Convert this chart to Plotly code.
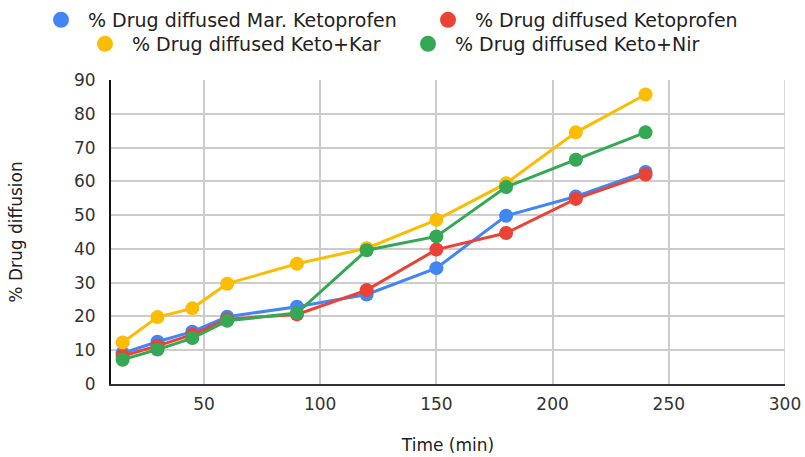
import plotly.graph_objects as go

time_min = [15, 30, 45, 60, 90, 120, 150, 180, 210, 240]
mar_keto = [9.1, 12.5, 15.5, 19.9, 22.9, 26.5, 34.3, 49.8, 55.5, 62.8]
keto = [8.3, 11.3, 14.6, 19.2, 20.6, 27.8, 39.8, 44.7, 54.8, 62.0]
keto_kar = [12.3, 19.8, 22.4, 29.7, 35.6, 40.2, 48.6, 59.4, 74.5, 85.7]
keto_nir = [7.2, 10.2, 13.6, 18.7, 21.0, 39.6, 43.7, 58.3, 66.4, 74.5]

names = [
    "% Drug diffused Mar. Ketoprofen",
    "% Drug diffused Ketoprofen",
    "% Drug diffused Keto+Kar",
    "% Drug diffused Keto+Nir",
]
series = [mar_keto, keto, keto_kar, keto_nir]
colors = ["#4285F4", "#EA4335", "#FBBC04", "#34A853"]
legend_ids = ["legend", "legend2", "legend3", "legend4"]

FONT = "DejaVu Sans"

fig = go.Figure()
for name, ys, col in zip(names, series, colors):
    fig.add_trace(go.Scatter(
        x=time_min, y=ys, mode="lines+markers", name=name,
        line=dict(color=col, width=3),
        marker=dict(color=col, size=14),
        showlegend=False, legendgroup=name, hoverinfo="x+y+name",
    ))
# legend-only entries (circle symbols as in the reference)
for name, col, lg in zip(names, colors, legend_ids):
    fig.add_trace(go.Scatter(
        x=[None], y=[None], mode="markers", name=name,
        marker=dict(color=col, size=17),
        legendgroup=name, legend=lg, showlegend=True,
    ))

legend_common = dict(
    orientation="h", xref="container", yref="container",
    xanchor="left", yanchor="middle",
    font=dict(family=FONT, size=19, color="#222222"),
    bgcolor="rgba(0,0,0,0)", itemsizing="trace", itemwidth=44,
)
# (symbol centre x, row centre y) in pixels of the 805x457 canvas
legend_pos = [(61, 20), (448, 20), (105, 44), (428, 44)]
legend_layout = {}
for lg, (cx, cy) in zip(legend_ids, legend_pos):
    legend_layout[lg] = dict(legend_common, x=(cx - 27) / 805, y=1 - cy / 457)

fig.update_layout(
    width=805, height=457,
    margin=dict(l=111, r=20, t=80, b=73, autoexpand=False),
    paper_bgcolor="white", plot_bgcolor="white",
    font=dict(family=FONT, size=16, color="#333333"),
    **legend_layout,
    xaxis=dict(
        range=[10, 300], tickvals=[50, 100, 150, 200, 250, 300],
        showgrid=True, gridcolor="#cccccc", gridwidth=1.5,
        zeroline=False, showline=True, linecolor="#333333", linewidth=2,
        mirror=False, ticks="", ticklabelstandoff=4, automargin=False,
        tickfont=dict(family=FONT, size=17, color="#333333"),
        title=dict(text="Time (min)", standoff=26,
                   font=dict(family=FONT, size=17, color="#222222")),
    ),
    yaxis=dict(
        range=[0, 90], dtick=10,
        showgrid=True, gridcolor="#cccccc", gridwidth=1.5,
        zeroline=False, showline=True, linecolor="#111111", linewidth=2,
        ticks="", ticklabelstandoff=10, automargin=False,
        tickfont=dict(family=FONT, size=17, color="#333333"),
        title=dict(text="% Drug diffusion", standoff=47,
                   font=dict(family=FONT, size=17, color="#222222")),
    ),
)
# right border line at x=300 (gray, like gridline)
fig.update_layout(shapes=[dict(type="line", xref="x", yref="paper", x0=300, x1=300, y0=0, y1=1,
                               line=dict(color="#cccccc", width=1.5))])

fig.write_html("out.html")
